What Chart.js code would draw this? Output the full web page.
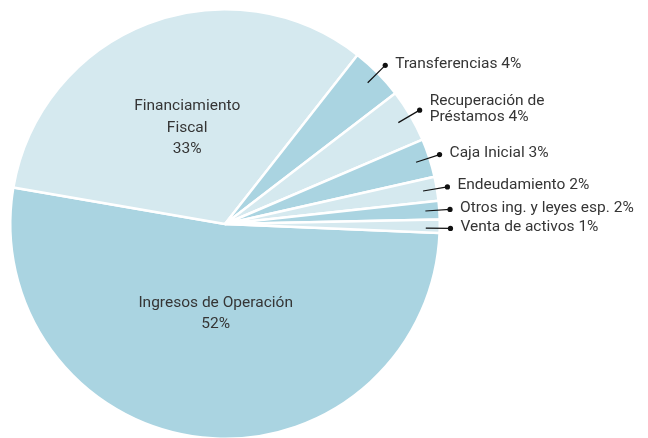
<!DOCTYPE html>
<html>
<head>
<meta charset="utf-8">
<script src="https://cdn.jsdelivr.net/npm/chart.js@4/dist/chart.umd.min.js"></script>
<style>
  html, body { margin: 0; padding: 0; background: #fff; overflow: hidden; }
  #wrap { width: 648px; height: 438px; overflow: hidden; }
</style>
</head>
<body>
<div id="wrap"><canvas id="ingresosChart" width="648" height="450"></canvas></div>
<script>
// Composición de ingresos (%)
const categorias = ['Ingresos de Operación', 'Financiamiento Fiscal', 'Transferencias', 'Recuperación de Préstamos',
    'Caja Inicial', 'Endeudamiento', 'Otros ing. y leyes esp.', 'Venta de activos'];
const valores = [52.1, 32.9, 4.0, 4.0, 2.9, 1.8, 1.4, 1.0];
const porcentajes = ['52%', '33%', '4%', '4%', '3%', '2%', '2%', '1%'];
// texto que se muestra en cada etiqueta (líneas)
const etiquetas = [
    ['Ingresos de Operación', '52%'],
    ['Financiamiento', 'Fiscal', '33%'],
    ['Transferencias 4%'],
    ['Recuperación de', 'Préstamos 4%'],
    ['Caja Inicial 3%'],
    ['Endeudamiento 2%'],
    ['Otros ing. y leyes esp. 2%'],
    ['Venta de activos 1%']
];

const azulOscuro = '#aad4e1';
const azulClaro = '#d5e9ef';
const colores = valores.map((v, i) => i % 2 === 0 ? azulOscuro : azulClaro);

const FUENTE = '15.5px Roboto, "Liberation Sans", sans-serif';
const COLOR_TEXTO = '#353535';

const etiquetasPlugin = {
    id: 'etiquetas',
    afterDatasetsDraw(chart) {
        const ctx = chart.ctx;
        const meta = chart.getDatasetMeta(0);
        ctx.save();
        ctx.font = FUENTE;
        let ultimoY = -Infinity;
        meta.data.forEach((arc, i) => {
            const p = arc.getProps(['x', 'y', 'startAngle', 'endAngle', 'outerRadius'], true);
            const medio = (p.startAngle + p.endAngle) / 2;
            const lineas = etiquetas[i];
            ctx.fillStyle = COLOR_TEXTO;
            if (i < 2) {
                // etiquetas dentro de la torta
                const f = i === 0 ? 0.41 : 0.49;
                const cx = p.x + Math.cos(medio) * p.outerRadius * f;
                const cy = p.y + Math.sin(medio) * p.outerRadius * f;
                ctx.textAlign = 'center';
                ctx.textBaseline = 'alphabetic';
                const alto = 21.5;
                lineas.forEach((t, k) => {
                    ctx.fillText(t, cx, cy + 6 + (k - (lineas.length - 1) / 2) * alto);
                });
            } else {
                // etiquetas externas con línea guía
                const x1 = p.x + Math.cos(medio) * p.outerRadius * 0.935;
                let y1 = p.y + Math.sin(medio) * p.outerRadius * 0.935;
                const x2 = p.x + Math.cos(medio) * p.outerRadius * 1.05;
                let y2 = p.y + Math.sin(medio) * p.outerRadius * 1.05;
                // evitar que las etiquetas se encimen
                if (y2 < ultimoY + 19) {
                    const d = ultimoY + 19 - y2;
                    y2 += d;
                    y1 += d;
                }
                ultimoY = y2;
                ctx.strokeStyle = '#111';
                ctx.lineWidth = 1.2;
                ctx.beginPath();
                ctx.moveTo(x1, y1);
                ctx.lineTo(x2, y2);
                ctx.stroke();
                ctx.beginPath();
                ctx.arc(x2, y2, 2.6, 0, Math.PI * 2);
                ctx.fillStyle = '#111';
                ctx.fill();
                ctx.fillStyle = COLOR_TEXTO;
                ctx.textAlign = 'left';
                ctx.textBaseline = 'alphabetic';
                const alto = 16;
                lineas.forEach((t, k) => {
                    ctx.fillText(t, x2 + 10, y2 + 2.5 + (k - (lineas.length - 1) / 2) * alto);
                });
            }
        });
        ctx.restore();
    }
};

const chart = new Chart(document.getElementById('ingresosChart'), {
    type: 'pie',
    data: {
        labels: categorias,
        datasets: [{
            data: valores,
            backgroundColor: colores,
            borderColor: '#ffffff',
            borderWidth: 2.5
        }]
    },
    options: {
        responsive: false,
        animation: false,
        rotation: 92.4,
        layout: { padding: { left: 9, top: 8, right: 207, bottom: 10 } },
        plugins: {
            legend: { display: false },
            tooltip: { enabled: false }
        }
    },
    plugins: [etiquetasPlugin]
});
</script>
</body>
</html>
